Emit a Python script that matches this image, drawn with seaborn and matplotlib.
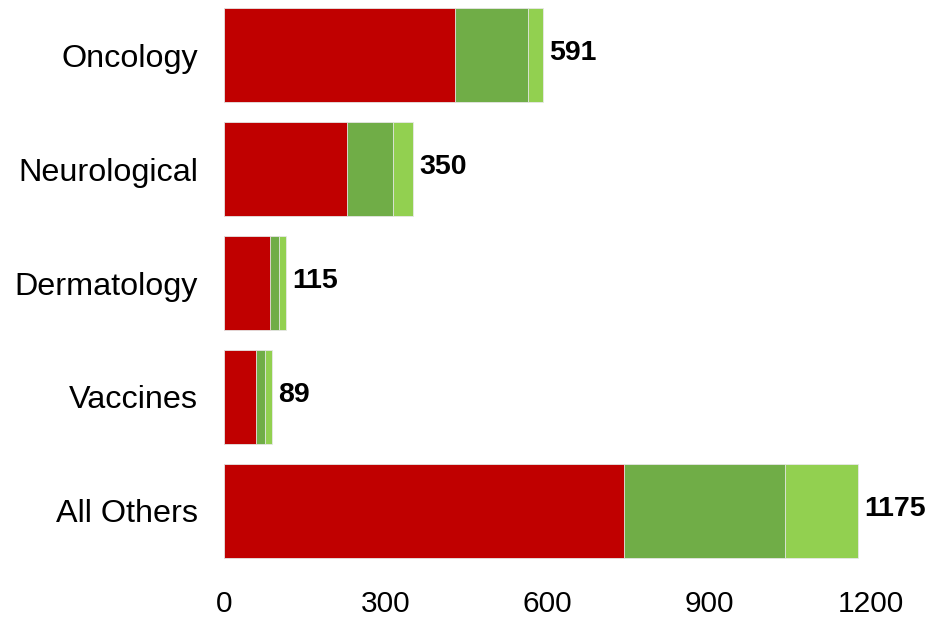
import matplotlib
matplotlib.use("Agg")
import matplotlib.pyplot as plt
import seaborn as sns
import pandas as pd
import numpy as np

categories = ["Oncology", "Neurological", "Dermatology", "Vaccines", "All Others"]
seg_red = [428, 228, 84, 59, 741]
seg_dark = [135, 84, 17, 16, 299]
seg_light = [28, 38, 14, 14, 135]
totals = [591, 350, 115, 89, 1175]
xticks = [0, 300, 600, 900, 1200]

colors = ["#C00000", "#70AD47", "#92D050"]

sns.set_theme(style="white")
plt.rcParams["font.family"] = ["Liberation Sans", "DejaVu Sans"]

fig = plt.figure(figsize=(9.32, 6.2), dpi=100)
ax = fig.add_axes([224.3 / 932, (620 - 568) / 620, 647 / 932, 570 / 620])

df = pd.DataFrame({
    "cat": categories,
    "red": seg_red,
    "dark": seg_dark,
    "light": seg_light,
})
df["c1"] = df["red"]
df["c2"] = df["red"] + df["dark"]
df["c3"] = df["red"] + df["dark"] + df["light"]

for col, c in [("c3", colors[2]), ("c2", colors[1]), ("c1", colors[0])]:
    sns.barplot(data=df, x=col, y="cat", color=c, orient="h", width=0.82,
                edgecolor="#e8e8e8", linewidth=0.6, saturation=1, ax=ax)

for i, (v, t) in enumerate(zip(df["c3"], totals)):
    ax.annotate(str(t), xy=(v, i), xytext=(6, 2), textcoords="offset pixels",
                ha="left", va="center", fontsize=20.5, fontweight="bold", color="black")

ax.set_xlim(0, 1200)
ax.set_ylim(4.5, -0.5)
ax.set_xticks(xticks)
ax.set_xticklabels([str(x) for x in xticks])
ax.set_xlabel("")
ax.set_ylabel("")
for s in ax.spines.values():
    s.set_visible(False)
ax.tick_params(axis="y", length=0, pad=19, labelsize=23.3, colors="black")
ax.tick_params(axis="x", length=0, pad=16, labelsize=21.5, colors="black")
ax.grid(False)

fig.savefig("out.png", dpi=100)
